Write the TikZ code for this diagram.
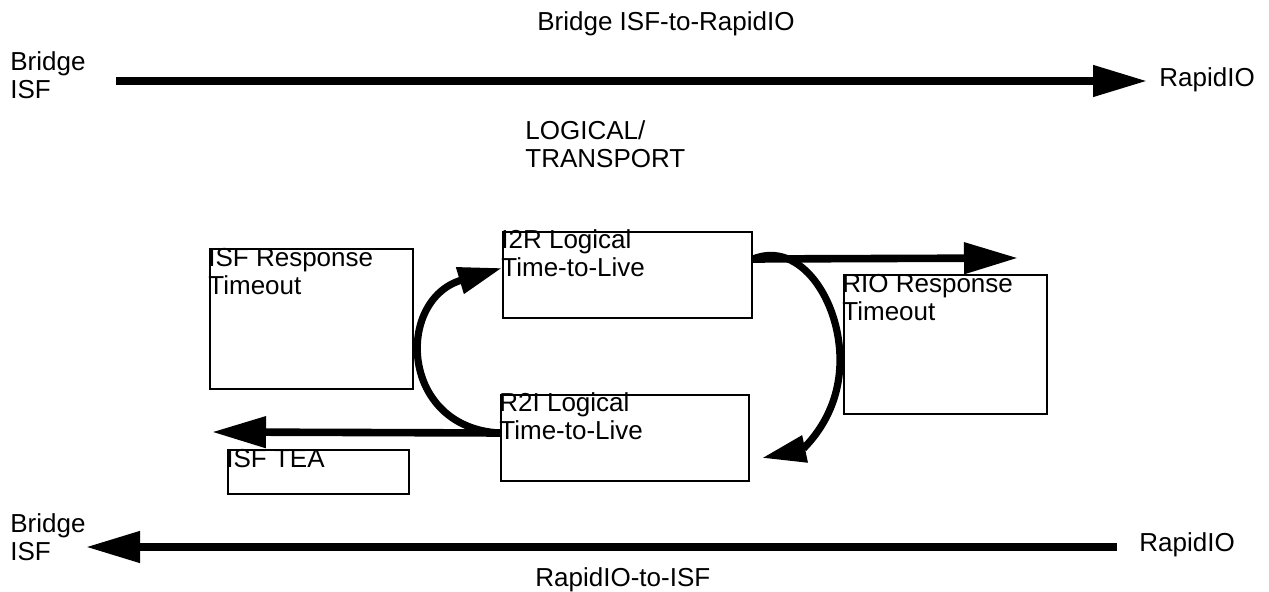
\documentclass[tikz,border=0pt]{standalone}
\usepackage{fontspec}
\setmainfont{Liberation Sans}
\usetikzlibrary{arrows.meta}
\tikzset{
  frame/.style={draw,line width=1pt,rectangle,anchor=north west,inner sep=0pt},
  lbl/.style={anchor=base west,inner sep=0pt,align=left,font=\fontsize{13}{14}\selectfont},
  thickarrow/.style={line width=3.8pt,-{Triangle[length=27pt,width=15pt]}},
  curvearrow/.style={line width=3.6pt,-{Triangle[length=22pt,width=13pt]}}
}
\begin{document}
\begin{tikzpicture}[x=0.5pt,y=-0.5pt]
    \useasboundingbox (0,0) rectangle (1269,592);
    %% Titles and end points (base = last line)
    \node[lbl] (ttop) at (537,31) {Bridge ISF-to-RapidIO};
    \node[lbl] (tbot) at (535,587) {RapidIO-to-ISF};
    \node[lbl] (isftop) at (10,99) {Bridge\\ISF};
    \node[lbl] (riotop) at (1159,87) {RapidIO};
    \node[lbl] (isfbot) at (10,561) {Bridge\\ISF};
    \node[lbl] (riobot) at (1139,552) {RapidIO};
    \node[lbl] (layer) at (525,168) {LOGICAL/\\TRANSPORT};
    %% Boxes
    \node[frame,minimum width=101.5pt,minimum height=70pt] (isfresp) at (209,248) {};
    \node[frame,minimum width=124.5pt,minimum height=43pt] (i2r) at (502,231) {};
    \node[frame,minimum width=124pt,minimum height=43pt] (r2i) at (500,394) {};
    \node[frame,minimum width=90.5pt,minimum height=22pt] (tea) at (227,449) {};
    \node[frame,minimum width=101.5pt,minimum height=69.5pt] (riot) at (843,274) {};
    \node[lbl] at ([shift={(-1,47)}]isfresp.north west) {ISF Response\\Timeout};
    \node[lbl] at ([shift={(-1,46)}]i2r.north west) {I2R Logical\\Time-to-Live};
    \node[lbl] at ([shift={(-1,46)}]r2i.north west) {R2I Logical\\Time-to-Live};
    \node[lbl] at ([shift={(-1,19)}]tea.north west) {ISF TEA};
    \node[lbl] at ([shift={(-1,47)}]riot.north west) {RIO Response\\Timeout};
    %% Main flows
    \coordinate (isfa) at (116,81);
    \coordinate (rioa) at (1147,81);
    \coordinate (riob) at (1117,547);
    \coordinate (isfb) at (86,547);
    \draw[thickarrow] (isfa) -- (rioa);
    \draw[thickarrow] (riob) -- (isfb);
    %% Local flows
    \coordinate (teaa) at (212,432);
    \coordinate (rioc) at (1018,258);
    \draw[thickarrow] ([shift={(0,-5)}]r2i.west) -- (teaa);
    \draw[thickarrow] ([shift={(0,-16)}]i2r.east) -- (rioc);
    \draw[curvearrow] ([shift={(0,-5)}]r2i.west) .. controls (400,428) and (395,300) .. ([shift={(0,-7)}]i2r.west);
    \draw[curvearrow] ([shift={(0,-16)}]i2r.east) .. controls (800,240) and (840,300) .. (840,360)
        .. controls (840,420) and (800,450) .. ([shift={(12,20)}]r2i.east);
\end{tikzpicture}
\end{document}
